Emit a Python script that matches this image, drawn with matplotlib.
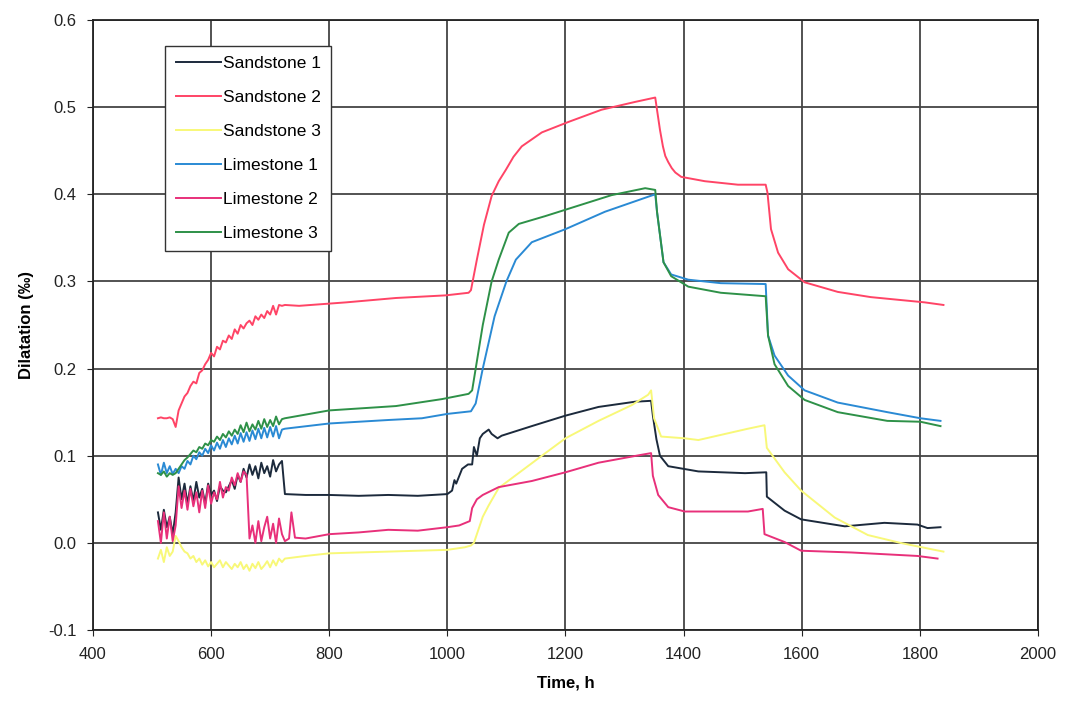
# Dilatation of sandstone and limestone samples vs time

import matplotlib.pyplot as plt
import numpy as np

plt.rcParams['font.family'] = ['Liberation Sans', 'DejaVu Sans']

# shared time points of the noisy start (h)
t_early = [510, 515, 520, 525, 530, 535, 540, 545, 550, 555, 560, 565, 570, 575, 580,
           585, 590, 595, 600, 605, 610, 615, 620, 625, 630, 635, 640, 645, 650, 655,
           660, 665, 670, 675, 680, 685, 690, 695, 700, 705, 710, 715, 720]

# Sandstone 1
ss1_early = [.035, .015, .038, .018, .030, .010, .035, .075, .050, .068, .045, .065, .048, .070, .052,
             .062, .045, .068, .055, .060, .048, .065, .060, .058, .065, .072, .062, .078, .070, .085,
             .075, .090, .078, .088, .074, .092, .080, .088, .076, .095, .082, .090, .094]
ss1_t = [725, 760, 800, 850, 900, 950, 1000, 1008, 1012, 1015, 1025, 1035, 1042, 1045, 1050,
         1055, 1060, 1070, 1075, 1085, 1092, 1143, 1200, 1256, 1318, 1345, 1348, 1354, 1360, 1374,
         1425, 1504, 1540, 1541, 1571, 1599, 1673, 1740, 1796, 1813, 1835]
ss1_v = [.056, .055, .055, .054, .055, .054, .056, .060, .072, .068, .085, .090, .090, .110, .100,
         .120, .125, .130, .125, .120, .123, .134, .146, .156, .162, .163, .146, .119, .100, .088,
         .082, .080, .081, .053, .037, .027, .019, .023, .021, .017, .018]

# Sandstone 2
ss2_early = [.143, .144, .143, .143, .144, .142, .133, .152, .160, .168, .172, .180, .185, .183, .195,
             .198, .205, .210, .218, .214, .225, .222, .232, .230, .238, .234, .245, .240, .250, .246,
             .252, .255, .250, .260, .256, .262, .258, .266, .262, .272, .262, .273, .272]
ss2_t = [725, 749, 829, 913, 997, 1036, 1040, 1050, 1062, 1075, 1087, 1099, 1112, 1126, 1160,
         1205, 1261, 1318, 1352, 1355, 1360, 1365, 1369, 1374, 1380, 1386, 1396, 1436, 1492, 1539,
         1542, 1548, 1560, 1577, 1605, 1661, 1717, 1808, 1840]
ss2_v = [.273, .272, .276, .281, .284, .287, .290, .325, .365, .398, .415, .428, .443, .455, .471,
         .483, .497, .506, .511, .497, .474, .455, .444, .437, .430, .425, .420, .415, .411, .411,
         .402, .360, .333, .314, .299, .288, .282, .276, .273]

# Sandstone 3
ss3_early = [-.018, -.008, -.022, -.005, -.015, -.010, .008, .002, -.005, -.010, -.012, -.018, -.015, -.022, -.018,
             -.025, -.020, -.027, -.022, -.028, -.024, -.020, -.028, -.022, -.026, -.030, -.024, -.028, -.022, -.030,
             -.025, -.032, -.024, -.029, -.022, -.030, -.026, -.021, -.028, -.020, -.026, -.018, -.022]
ss3_t = [725, 760, 800, 900, 1000, 1030, 1040, 1045, 1060, 1070, 1087, 1160, 1200, 1256, 1312,
         1340, 1345, 1350, 1362, 1402, 1425, 1509, 1537, 1541, 1571, 1599, 1656, 1712, 1767, 1825, 1840]
ss3_v = [-.018, -.015, -.012, -.010, -.008, -.005, -.003, .000, .030, .043, .063, .100, .120, .140, .158,
         .170, .175, .143, .122, .120, .118, .131, .135, .109, .081, .060, .029, .009, .000, -.008, -.010]

# Limestone 1
ls1_early = [.090, .078, .092, .080, .088, .079, .085, .080, .088, .085, .094, .090, .100, .096, .104,
             .100, .108, .103, .112, .106, .115, .108, .118, .110, .120, .113, .123, .114, .126, .116,
             .127, .117, .129, .119, .131, .120, .132, .121, .133, .122, .134, .120, .130]
ls1_t = [725, 800, 900, 957, 1000, 1040, 1048, 1060, 1080, 1100, 1116, 1143, 1200, 1267, 1352,
         1355, 1366, 1379, 1408, 1463, 1539, 1543, 1554, 1577, 1605, 1661, 1745, 1801, 1835]
ls1_v = [.131, .137, .141, .143, .148, .151, .160, .200, .260, .300, .325, .345, .360, .380, .400,
         .380, .322, .308, .302, .298, .297, .238, .215, .192, .175, .161, .150, .143, .140]

# Limestone 2
ls2_early = [.025, .000, .035, .005, .030, .002, .020, .065, .040, .060, .038, .062, .042, .058, .035,
             .060, .040, .066, .045, .058, .050, .070, .052, .064, .060, .075, .066, .080, .070, .082,
             .078, .005, .020, .000, .025, .002, .018, .030, .005, .022, .000, .028, .010]
ls2_t = [725, 732, 736, 742, 760, 800, 850, 900, 950, 1000, 1020, 1038, 1042, 1050, 1060,
         1087, 1143, 1200, 1256, 1328, 1345, 1348, 1357, 1374, 1402, 1509, 1534, 1537, 1571, 1599,
         1684, 1740, 1796, 1830]
ls2_v = [.002, .005, .035, .006, .005, .010, .012, .015, .014, .018, .020, .025, .040, .050, .055,
         .064, .071, .081, .092, .101, .103, .077, .055, .041, .036, .036, .039, .010, .001, -.009,
         -.011, -.013, -.015, -.018]

# Limestone 3
ls3_early = [.080, .078, .082, .076, .080, .078, .080, .085, .090, .095, .098, .102, .106, .104, .110,
             .108, .114, .112, .118, .116, .122, .118, .125, .121, .128, .123, .130, .125, .135, .127,
             .138, .128, .136, .130, .140, .131, .142, .133, .141, .134, .145, .136, .142]
ls3_t = [725, 800, 913, 991, 1036, 1042, 1048, 1060, 1075, 1087, 1104, 1121, 1166, 1222, 1278,
         1335, 1352, 1355, 1366, 1379, 1408, 1463, 1539, 1543, 1554, 1577, 1605, 1661, 1745, 1801, 1835]
ls3_v = [.143, .152, .157, .165, .171, .175, .200, .250, .300, .325, .356, .366, .375, .387, .399,
         .407, .405, .380, .322, .306, .294, .287, .283, .238, .205, .180, .164, .150, .140, .139, .134]

series = [
    ('Sandstone 1', ss1_early, ss1_t, ss1_v, '#1c2a3c'),
    ('Sandstone 2', ss2_early, ss2_t, ss2_v, '#ff4466'),
    ('Sandstone 3', ss3_early, ss3_t, ss3_v, '#f8f878'),
    ('Limestone 1', ls1_early, ls1_t, ls1_v, '#2a8ad4'),
    ('Limestone 2', ls2_early, ls2_t, ls2_v, '#e8307a'),
    ('Limestone 3', ls3_early, ls3_t, ls3_v, '#2e9148'),
]

fig = plt.figure(figsize=(10.65, 7.06), dpi=100)
ax = fig.add_axes([0.0873, 0.1076, 0.8873, 0.8641])

for name, early, t_late, v_late, col in series:
    t = list(t_early) + list(t_late)
    v = list(early) + list(v_late)
    ax.plot(t, v, color=col, linewidth=1.4, label=name)

ax.set_xlim(400, 2000)
ax.set_ylim(-0.1, 0.6)
ax.set_xticks([400, 600, 800, 1000, 1200, 1400, 1600, 1800, 2000])
ax.set_yticks([-0.1, 0.0, 0.1, 0.2, 0.3, 0.4, 0.5, 0.6])
ax.set_yticklabels(['%.1f' % y for y in ax.get_yticks()])
ax.tick_params(labelsize=12, length=4, colors='#222222', pad=8)
ax.grid(True, color='#444444', linewidth=1.3)
ax.set_axisbelow(True)
for s in ax.spines.values():
    s.set_color('#222222')
    s.set_linewidth(1.3)

ax.set_xlabel('Time, h', fontsize=12, fontweight='bold', labelpad=10)
ax.set_ylabel('Dilatation (‰)', fontsize=12, fontweight='bold', labelpad=10)

leg = ax.legend(loc='upper left', bbox_to_anchor=(0.0675, 0.972), fontsize=12.5,
                fancybox=False, framealpha=1, edgecolor='#333333',
                handlelength=2.6, handletextpad=0.1, labelspacing=1.08, borderpad=0.6)
leg.get_frame().set_linewidth(1.0)

fig.savefig('out.png', dpi=100)
